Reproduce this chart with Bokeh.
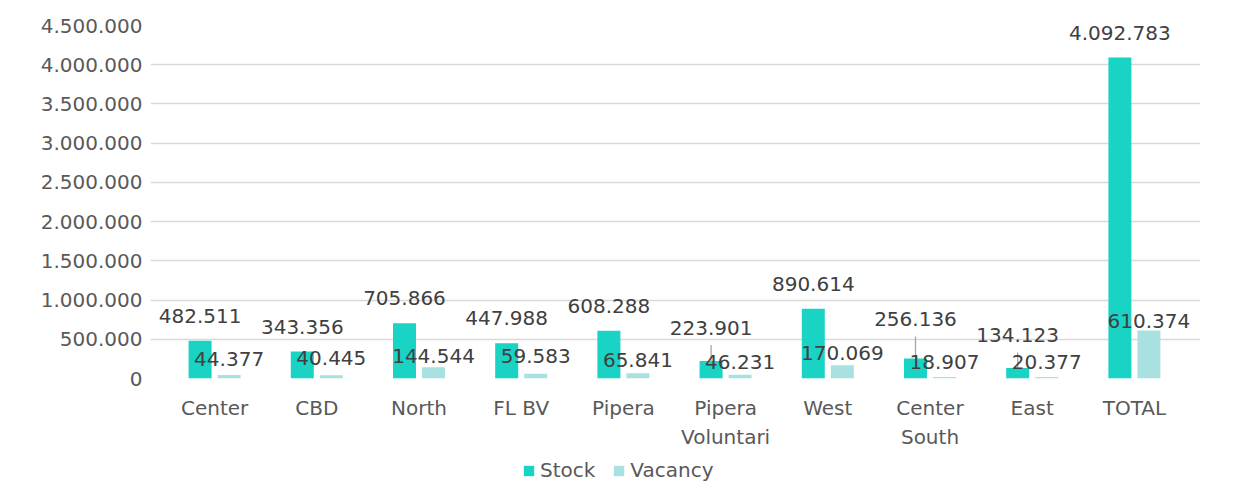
from bokeh.plotting import figure
from bokeh.layouts import column
from bokeh.models import (ColumnDataSource, Range1d, Legend, LegendItem, CustomJSTickFormatter,
                          FixedTicker)
from bokeh.transform import dodge
from bokeh.core.properties import value
from bokeh.embed import file_html
from bokeh.resources import INLINE

categories = ["Center", "CBD", "North", "FL BV", "Pipera", "Pipera\nVoluntari", "West", "Center\nSouth", "East", "TOTAL"]
stock = [482511, 343356, 705866, 447988, 608288, 223901, 890614, 256136, 134123, 4092783]
vacancy = [44377, 40445, 144544, 59583, 65841, 46231, 170069, 18907, 20377, 610374]
series = ["Stock", "Vacancy"]

# label placement (pixels above the bar top) - style only
stock_lbl_off = [25, 25, 25, 25, 25, 33, 25, 39, 32.5, 24]
vac_lbl_off = [16.5, 17, 11, 18, 13, 13, 12, 15, 15, 10]
leader = [False, False, False, False, False, True, False, True, True, False]

FONT = "DejaVu Sans"
STOCK_C = "#19D3C5"
VAC_C = "#A8E1DF"

def fmt(v):
    return f"{v:,}".replace(",", ".")

W, H, LEG_H = 1235, 455, 27
YMAX = 4500000
top_b, bot_b = 25, 77
left_b, right_b = 150, 35
frame_h = H - top_b - bot_b
px = YMAX / frame_h
cat_px = (W - left_b - right_b - 28) / len(categories)

xs = [i + 0.5 for i in range(len(categories))]
src = ColumnDataSource(dict(
    x=xs, stock=stock, vacancy=vacancy,
    stock_lbl=[fmt(v) for v in stock], vac_lbl=[fmt(v) for v in vacancy],
    s_off=[-o for o in stock_lbl_off], v_off=[-o for o in vac_lbl_off],
))

p = figure(width=W, height=H,
           x_range=Range1d(-13 / cat_px, len(categories) + 15 / cat_px),
           y_range=Range1d(0, YMAX), output_backend="svg", toolbar_location=None,
           min_border_left=left_b, min_border_right=right_b, min_border_top=top_b, min_border_bottom=bot_b)
p.outline_line_color = None
p.background_fill_color = "white"

off = 0.142
bw = 0.225
rs = p.vbar(x=dodge("x", -off), top="stock", width=bw, source=src, fill_color=STOCK_C, line_color=None)
rv = p.vbar(x=dodge("x", off), top="vacancy", width=bw, source=src, fill_color=VAC_C, line_color=None)

# leader lines
lx = [x - off for x, l in zip(xs, leader) if l]
ly0 = [s for s, l in zip(stock, leader) if l]
ly1 = [s + (o - 17) * px for s, o, l in zip(stock, stock_lbl_off, leader) if l]
p.segment(x0=lx, x1=lx, y0=ly0, y1=ly1, line_color="#A6A6A6", line_width=1.3)

p.text(x=dodge("x", -off), y="stock", text="stock_lbl", y_offset="s_off", source=src,
       text_align="center", text_baseline="middle", text_font=value(FONT), text_font_size="20px", text_color="#404040")
p.text(x=dodge("x", off), y="vacancy", text="vac_lbl", y_offset="v_off", source=src,
       text_align="center", text_baseline="middle", text_font=value(FONT), text_font_size="20px", text_color="#404040")

p.xgrid.grid_line_color = None
p.ygrid.grid_line_color = "#D9D9D9"
p.ygrid.grid_line_width = 1.5
p.yaxis.ticker = FixedTicker(ticks=list(range(0, YMAX + 1, 500000)))
p.yaxis.formatter = CustomJSTickFormatter(code="return tick.toString().replace(/\\B(?=(\\d{3})+(?!\\d))/g, '.');")
p.xaxis.ticker = FixedTicker(ticks=xs)
p.xaxis.formatter = CustomJSTickFormatter(args=dict(labels=categories),
                                          code="return labels[Math.round(tick - 0.5)];")

for ax in (p.xaxis[0], p.yaxis[0]):
    ax.axis_line_color = None
    ax.major_tick_line_color = None
    ax.minor_tick_line_color = None
    ax.major_label_text_font = FONT
    ax.major_label_text_font_size = "20px"
    ax.major_label_text_color = "#595959"
p.yaxis.major_label_standoff = 2
p.xaxis.major_label_standoff = 11
p.xaxis.major_label_text_line_height = 1.24

# legend strip below the chart (frame is aligned with the chart's frame by the column layout)
pl = figure(width=W, height=LEG_H, x_range=Range1d(0, 1), y_range=Range1d(0, 1),
            output_backend="svg", toolbar_location=None, x_axis_type=None, y_axis_type=None,
            min_border=0, min_border_left=0, min_border_right=0, min_border_top=0, min_border_bottom=0)
pl.outline_line_color = None
pl.xgrid.visible = False
pl.ygrid.visible = False
hidden = ColumnDataSource(dict(x=[-10.0], top=[0.0]))
ls = pl.vbar(x="x", top="top", width=0.1, source=hidden, fill_color=STOCK_C, line_color=None)
lv = pl.vbar(x="x", top="top", width=0.1, source=hidden, fill_color=VAC_C, line_color=None)
legend = Legend(items=[LegendItem(label=series[0], renderers=[ls]), LegendItem(label=series[1], renderers=[lv])],
                orientation="horizontal", location=(372, 0), padding=0, margin=0, spacing=17,
                glyph_width=13, glyph_height=13, label_standoff=5,
                label_text_font=FONT, label_text_font_size="20px", label_text_color="#595959",
                border_line_color=None, background_fill_alpha=0)
pl.add_layout(legend, "center")

layout = column(p, pl, spacing=0)
open("out.html", "w").write(file_html(layout, INLINE))
